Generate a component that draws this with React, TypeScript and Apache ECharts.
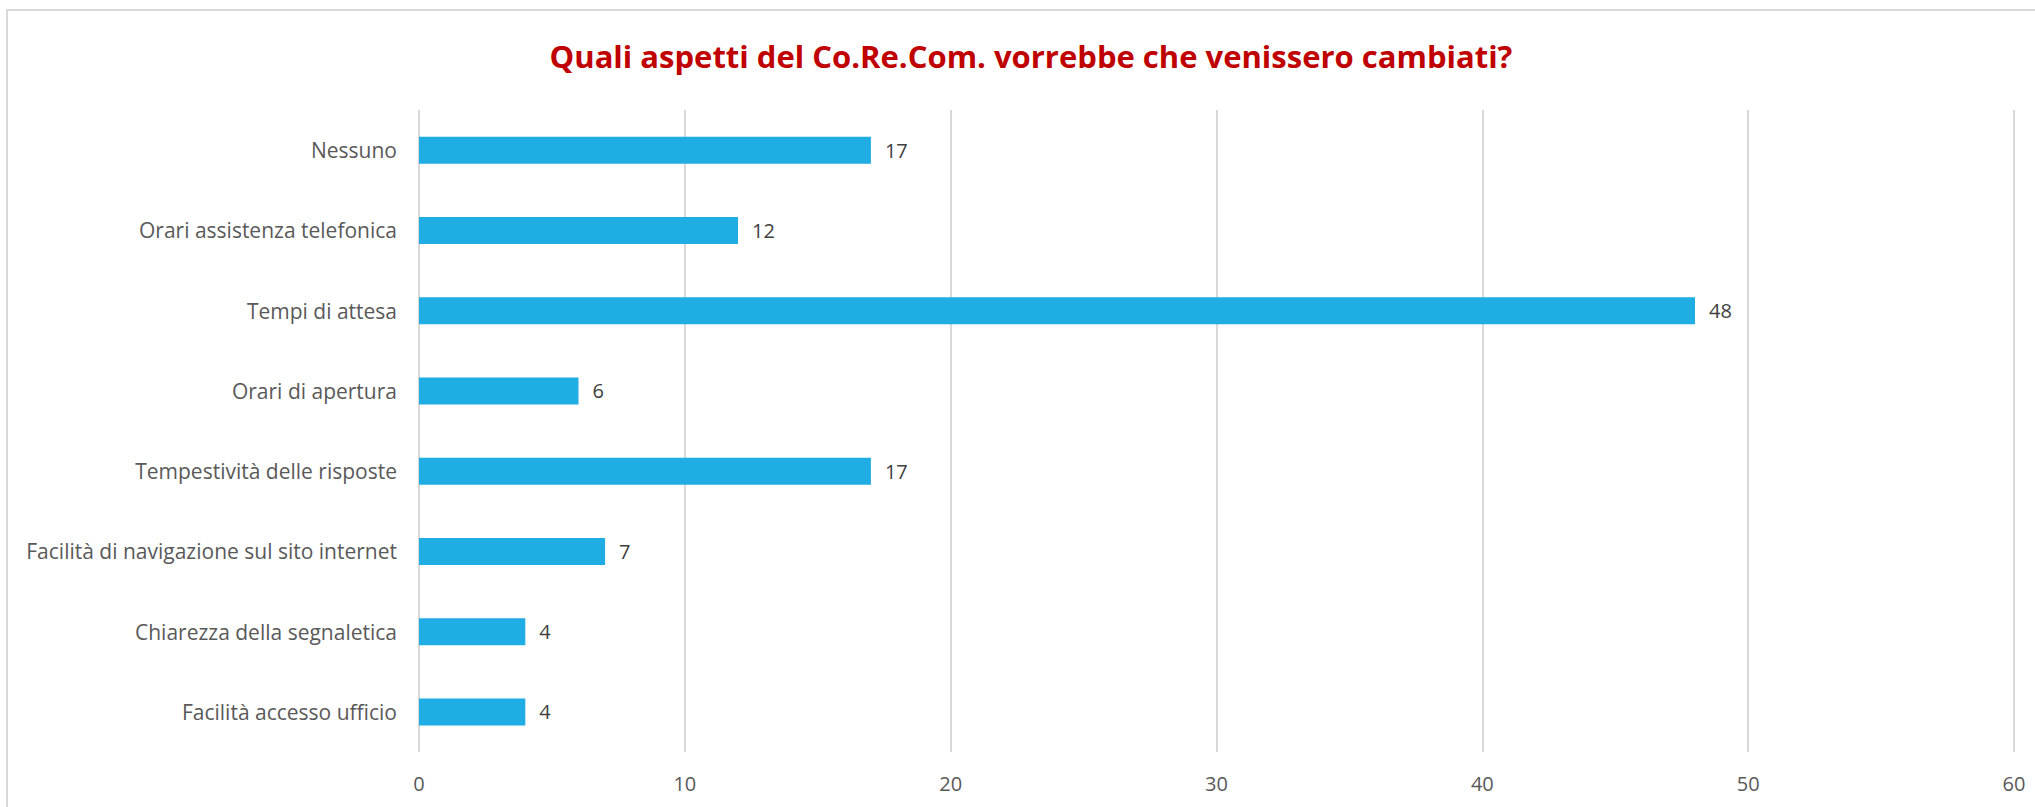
import React, { useEffect, useRef } from "react";
import * as echarts from "echarts";

const TITLE = "Quali aspetti del Co.Re.Com. vorrebbe che venissero cambiati?";
const categories = [
  "Nessuno",
  "Orari assistenza telefonica",
  "Tempi di attesa",
  "Orari di apertura",
  "Tempestività delle risposte",
  "Facilità di navigazione sul sito internet",
  "Chiarezza della segnaletica",
  "Facilità accesso ufficio",
];
const values = [17, 12, 48, 6, 17, 7, 4, 4];
const xMin = 0;
const xMax = 60;
const xInterval = 10;

export default function App() {
  const ref = useRef<HTMLDivElement>(null);
  useEffect(() => {
    if (!ref.current) return;
    const chart = echarts.init(ref.current, undefined, { renderer: "svg" });
    const font = "'Open Sans', 'Liberation Sans', sans-serif";
    chart.setOption({
      animation: false,
      backgroundColor: "#ffffff",
      graphic: [
        {
          type: "rect",
          shape: { x: 7, y: 10, width: 2100, height: 900 },
          style: { fill: "none", stroke: "#D9D9D9", lineWidth: 2 },
          silent: true,
        },
        {
          type: "text",
          x: 1031,
          y: 56,
          style: {
            text: TITLE,
            fill: "#C00000",
            font: `bold 31px ${font}`,
            textAlign: "center",
            textVerticalAlign: "middle",
          },
        },
      ],
      grid: { left: 419, right: 21, top: 110, bottom: 55, containLabel: false },
      xAxis: {
        type: "value",
        min: xMin,
        max: xMax,
        interval: xInterval,
        axisLine: { show: false },
        axisTick: { show: false },
        splitLine: { show: true, lineStyle: { color: "#D9D9D9", width: 2 } },
        axisLabel: { color: "#595959", fontSize: 20, fontFamily: font, margin: 21 },
      },
      yAxis: {
        type: "category",
        data: categories,
        inverse: true,
        axisLine: { show: false },
        axisTick: { show: false },
        splitLine: { show: false },
        axisLabel: { color: "#595959", fontSize: 21, fontFamily: font, margin: 22 },
      },
      series: [
        {
          type: "bar",
          data: values,
          barWidth: 27,
          itemStyle: { color: "#1FADE4" },
          label: {
            show: true,
            position: "right",
            distance: 14,
            color: "#404040",
            fontSize: 20,
            fontFamily: font,
          },
        },
      ],
    });
    return () => chart.dispose();
  }, []);
  return (
    <div
      ref={ref}
      style={{ position: "fixed", left: 0, top: 0, width: 2035, height: 807 }}
    />
  );
}
